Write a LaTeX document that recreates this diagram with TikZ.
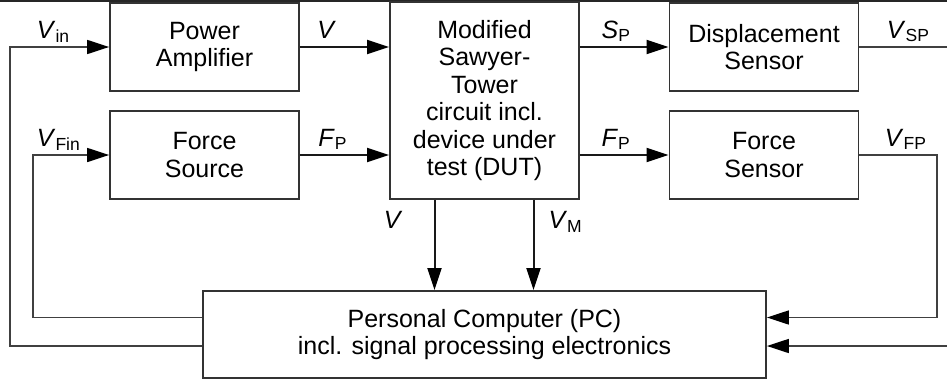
\documentclass[tikz,border=0pt]{standalone}
\usepackage{fontspec}
\setmainfont{Liberation Sans}
\usetikzlibrary{arrows.meta}

\newcommand{\sig}[2]{\textit{#1}\textsubscript{#2}}

\begin{document}
\begin{tikzpicture}[x=0.5pt, y=-0.5pt, >={Triangle[length=11pt, width=7pt, color=black]},
  block/.style={draw=black!80, line width=0.9pt, align=center, inner sep=0pt,
    minimum width=94.5pt, minimum height=44pt, font=\fontsize{12.5}{13.7}\selectfont},
  conn/.style={line width=1pt, black!90},
  loop/.style={line width=0.75pt, black!75},
  lbl/.style={anchor=base, inner sep=0pt, black, font=\fontsize{12.5}{13.7}\selectfont, yshift=4.5pt}]
  \useasboundingbox (0,0) rectangle (947,380);
  \draw[line width=1.2pt, black!85] (0,1.2) -- (947,1.2);
  % Blocks
  \node[block] (amp) at (204.5,47) {Power\\Amplifier};
  \node[block] (src) at (204.5,155) {Force\\Source};
  \node[block, minimum height=98.5pt] (dut) at (484.5,100.5)
    {Modified\\Sawyer-\\Tower\\circuit incl.\\device under\\test (DUT)};
  \node[block] (disp) at (764,47) {Displacement\\Sensor};
  \node[block] (fsens) at (764,155) {Force\\Sensor};
  \node[block, minimum width=281.5pt, minimum height=43.5pt] (pc) at (484.5,334.5)
    {Personal Computer (PC)\\incl. signal processing electronics};
  % Loop corners
  \coordinate (outer) at (10,346);
  \coordinate (inner) at (33,317.5);
  \coordinate (rturn) at (937,317.5);
  \coordinate (edgeA) at (947,47);
  \coordinate (edgeB) at (947,346);
  % Inputs from the PC
  \draw[loop,->] (pc.west |- outer) -- (outer) |- node[lbl, pos=0.72] {\sig{V}{in}} (amp.west);
  \draw[loop,->] (pc.west |- inner) -- (inner) |- node[lbl, pos=0.67] {\sig{V}{Fin}} (src.west);
  % Into and out of the DUT
  \draw[conn,->] (amp.east) -- node[lbl, pos=0.3] {\textit{V}} (amp.east -| dut.west);
  \draw[conn,->] (src.east) -- node[lbl, pos=0.37] {\sig{F}{P}} (src.east -| dut.west);
  \draw[conn,->] (dut.east |- disp) -- node[lbl, pos=0.41] {\sig{S}{P}} (disp.west);
  \draw[conn,->] (dut.east |- fsens) -- node[lbl, pos=0.41] {\sig{F}{P}} (fsens.west);
  \draw[conn,->] ([xshift=-25pt]dut.south) --
    node[lbl, pos=0.42, anchor=base east, yshift=0pt, xshift=-15.5pt] {\textit{V}}
    ([xshift=-25pt]dut.south |- pc.north);
  \draw[conn,->] ([xshift=24.5pt]dut.south) --
    node[lbl, pos=0.42, anchor=base west, yshift=0pt, xshift=7pt] {\sig{V}{M}}
    ([xshift=24.5pt]dut.south |- pc.north);
  % Sensor outputs
  \draw[loop] (disp.east) -- node[lbl, pos=0.56] {\sig{V}{SP}} (edgeA);
  \draw[loop,->] (fsens.east) -| node[lbl, pos=0.3] {\sig{V}{FP}} (rturn) -- (pc.east |- rturn);
  \draw[loop,->] (edgeB) -- (pc.east |- edgeB);
\end{tikzpicture}
\end{document}
